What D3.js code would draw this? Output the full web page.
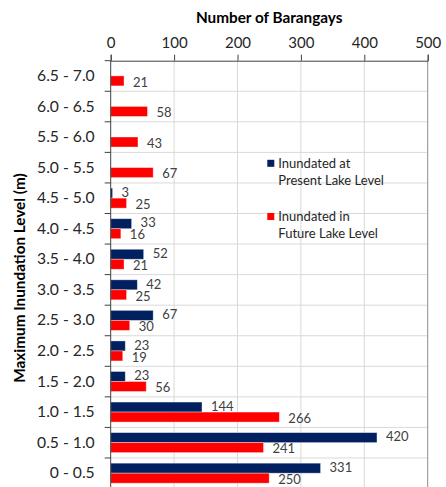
<!DOCTYPE html>
<html>
<head>
<meta charset="utf-8">
<script src="https://cdn.jsdelivr.net/npm/d3@7"></script>
<style>
  html, body { margin: 0; padding: 0; background: #fff; }
  svg { display: block; font-family: Lato, "Noto Sans", sans-serif; }
</style>
</head>
<body>
<svg id="chart" width="446" height="487"></svg>
<script>
// Inundation depth classes, listed top to bottom
const categories = ["6.5 - 7.0", "6.0 - 6.5", "5.5 - 6.0", "5.0 - 5.5", "4.5 - 5.0", "4.0 - 4.5",
  "3.5 - 4.0", "3.0 - 3.5", "2.5 - 3.0", "2.0 - 2.5", "1.5 - 2.0", "1.0 - 1.5", "0.5 - 1.0", "0 - 0.5"];
// Barangays inundated at the present lake level (null = no barangays in that class)
const presentLevel = [null, null, null, null, 3, 33, 52, 42, 67, 23, 23, 144, 420, 331];
// Barangays inundated at the future lake level
const futureLevel = [21, 58, 43, 67, 25, 16, 21, 25, 30, 19, 56, 266, 241, 250];
const xTicks = [0, 100, 200, 300, 400, 500];
const seriesNames = ["Inundated at Present Lake Level", "Inundated in Future Lake Level"];
const legendLines = [["Inundated at", "Present Lake Level"], ["Inundated in", "Future Lake Level"]];
const colors = ["#002060", "#ff0000"];

const svg = d3.select("#chart");
const plotLeft = 110.7, plotRight = 427.7, plotTop = 60.7, bandH = 30.56;
const plotBottom = plotTop + bandH * categories.length;

const x = d3.scaleLinear().domain([0, 500]).range([plotLeft, plotRight]);
const y = d3.scaleBand().domain(categories).range([plotTop, plotBottom]);
const inner = d3.scaleBand().domain(seriesNames).range([5.2, 25.2]);

// grid
const grid = svg.append("g");
grid.selectAll("line.v").data(xTicks.slice(1, -1)).join("line")
  .attr("x1", d => x(d)).attr("x2", d => x(d)).attr("y1", plotTop).attr("y2", plotBottom)
  .attr("stroke", "#d9d9d9").attr("stroke-width", 1);
grid.selectAll("line.h").data(categories.slice(1)).join("line")
  .attr("x1", plotLeft).attr("x2", plotRight).attr("y1", d => y(d)).attr("y2", d => y(d))
  .attr("stroke", "#d9d9d9").attr("stroke-width", 1);
// right frame edge
svg.append("line").attr("x1", plotRight).attr("x2", plotRight).attr("y1", plotTop).attr("y2", plotBottom)
  .attr("stroke", "#8c8c8c").attr("stroke-width", 1);

// bars
const rows = categories.map((c, i) => ({ c, vals: [presentLevel[i], futureLevel[i]] }));
const barData = [];
rows.forEach(r => r.vals.forEach((v, k) => { if (v != null) barData.push({ c: r.c, k, v }); }));

svg.append("g").selectAll("rect").data(barData).join("rect")
  .attr("x", x(0))
  .attr("y", d => y(d.c) + inner(seriesNames[d.k]))
  .attr("width", d => x(d.v) - x(0))
  .attr("height", inner.bandwidth())
  .attr("fill", d => colors[d.k])
  .attr("stroke", "rgba(255,255,255,0.45)")
  .attr("stroke-width", 0.8);

// value labels (present-level labels sit a touch higher, future-level a touch lower)
svg.append("g").selectAll("text").data(barData).join("text")
  .attr("x", d => x(d.v) + 9)
  .attr("y", d => y(d.c) + inner(seriesNames[d.k]) + inner.bandwidth() / 2 + (d.k === 0 ? -1 : 1))
  .attr("dy", "0.36em")
  .attr("font-size", 13)
  .attr("fill", "#404040")
  .text(d => d.v);

// top axis
const xAxis = svg.append("g").attr("transform", `translate(0,${plotTop})`)
  .call(d3.axisTop(x).tickValues(xTicks).tickSize(6).tickPadding(7));
xAxis.select(".domain").attr("stroke", "#404040");
xAxis.selectAll(".tick line").attr("stroke", "#404040");
xAxis.selectAll("text").attr("font-size", 15).attr("fill", "#262626")
  .attr("font-family", "Lato, 'Noto Sans', sans-serif");

// left axis: labels centred on bands, ticks on band boundaries
const yAxis = svg.append("g").attr("transform", `translate(${plotLeft},0)`)
  .call(d3.axisLeft(y).tickSize(0).tickPadding(16));
yAxis.select(".domain").remove();
yAxis.selectAll("text").attr("font-size", 15.7).attr("fill", "#262626")
  .attr("font-family", "Lato, 'Noto Sans', sans-serif");
svg.append("line").attr("x1", plotLeft).attr("x2", plotLeft).attr("y1", plotTop).attr("y2", plotBottom)
  .attr("stroke", "#404040");
svg.append("g").selectAll("line").data(categories).join("line")
  .attr("x1", plotLeft - 6).attr("x2", plotLeft).attr("y1", d => y(d)).attr("y2", d => y(d))
  .attr("stroke", "#404040");

// axis titles
svg.append("text").attr("x", (plotLeft + plotRight) / 2).attr("y", 17).attr("dy", "0.36em")
  .attr("text-anchor", "middle").attr("font-weight", "bold").attr("font-size", 15.3)
  .attr("fill", "#000").text("Number of Barangays");
svg.append("text").attr("transform", `translate(19.5,278) rotate(-90)`).attr("dy", "0.36em")
  .attr("text-anchor", "middle").attr("font-weight", "bold").attr("font-size", 15.3)
  .attr("fill", "#000").text("Maximum Inundation Level (m)");

// legend
const legendPos = [{ x: 267.3, y: 163.3 }, { x: 267.3, y: 216.5 }];
const lg = svg.append("g").selectAll("g").data(legendLines).join("g")
  .attr("transform", (d, i) => `translate(${legendPos[i].x},${legendPos[i].y})`);
lg.append("rect").attr("x", 0).attr("y", -3.5).attr("width", 7).attr("height", 7)
  .attr("fill", (d, i) => colors[i]);
lg.selectAll("text").data(d => d).join("text")
  .attr("x", 11).attr("y", (d, j) => j * 17.2).attr("dy", "0.36em")
  .attr("font-size", 13).attr("fill", "#262626").text(d => d);
</script>
</body>
</html>
